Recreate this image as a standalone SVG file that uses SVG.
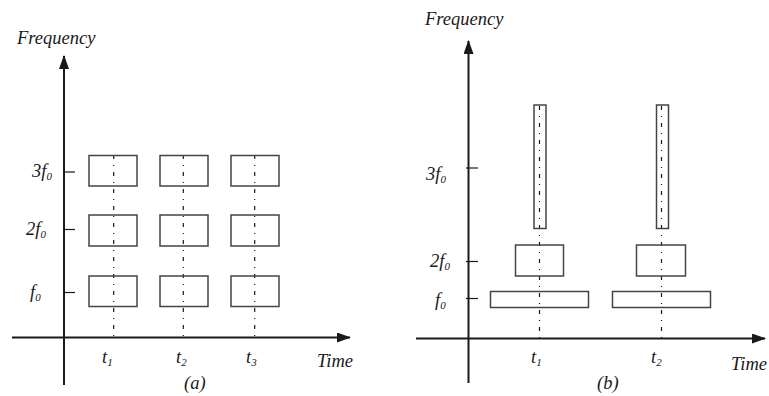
<svg xmlns="http://www.w3.org/2000/svg" width="769" height="396" viewBox="0 0 769 396">
<defs>
<marker id="arr" markerWidth="14" markerHeight="10" refX="13" refY="5" orient="auto" markerUnits="userSpaceOnUse">
<path d="M0,0 L14,5 L0,10 Z" fill="#1a1a1a"/>
</marker>
<style>
.ax{stroke:#1a1a1a;stroke-width:2;fill:none}
.tk{stroke:#1a1a1a;stroke-width:1.2;fill:none}
.bx{stroke:#444;stroke-width:1.5;fill:none}
.dd{stroke:#1a1a1a;stroke-width:1.2;stroke-dasharray:4 6 1 6;fill:none}
text{font-family:'Liberation Serif',serif;font-style:italic;font-size:18.5px;fill:#1a1a1a}
tspan{font-size:11px}
</style>
</defs>
<rect width="769" height="396" fill="#fff"/>
<g id="panel-a">
<g id="connectors-a">
<line class="ax" x1="64" y1="385" x2="64" y2="56" marker-end="url(#arr)"/>
<line class="ax" x1="12" y1="337.5" x2="350" y2="337.5" marker-end="url(#arr)"/>
<line class="tk" x1="63" y1="172" x2="75" y2="172"/>
<line class="tk" x1="63" y1="229.5" x2="75" y2="229.5"/>
<line class="tk" x1="63" y1="292.5" x2="75" y2="292.5"/>
<line class="dd" x1="113.7" y1="155" x2="113.7" y2="337"/>
<line class="dd" x1="183.3" y1="155" x2="183.3" y2="337"/>
<line class="dd" x1="254.7" y1="155" x2="254.7" y2="337"/>
</g>
<g id="a-boxes">
<rect class="bx" x="89" y="155.5" width="48" height="30.5"/>
<rect class="bx" x="160" y="155.5" width="48" height="30.5"/>
<rect class="bx" x="231" y="155.5" width="48" height="30.5"/>
<rect class="bx" x="89" y="215" width="48" height="31"/>
<rect class="bx" x="160" y="215" width="48" height="31"/>
<rect class="bx" x="231" y="215" width="48" height="31"/>
<rect class="bx" x="89" y="276" width="48" height="30.5"/>
<rect class="bx" x="160" y="276" width="48" height="30.5"/>
<rect class="bx" x="231" y="276" width="48" height="30.5"/>
</g>
<g id="a-labels">
<text x="17" y="44">Frequency</text>
<text x="32" y="177">3f<tspan dy="3">0</tspan></text>
<text x="26" y="235">2f<tspan dy="3">0</tspan></text>
<text x="30" y="298">f<tspan dy="3">0</tspan></text>
<text x="102" y="363">t<tspan dy="3">1</tspan></text>
<text x="176" y="363">t<tspan dy="3">2</tspan></text>
<text x="246" y="363">t<tspan dy="3">3</tspan></text>
<text x="317" y="367">Time</text>
<text x="184" y="389">(a)</text>
</g>
</g>
<g id="panel-b">
<g id="connectors-b">
<line class="ax" x1="468.5" y1="383" x2="468.5" y2="41" marker-end="url(#arr)"/>
<line class="ax" x1="416" y1="338.5" x2="765" y2="338.5" marker-end="url(#arr)"/>
<line class="tk" x1="466" y1="168" x2="478" y2="168"/>
<line class="tk" x1="466" y1="261.5" x2="478" y2="261.5"/>
<line class="tk" x1="466" y1="298.5" x2="478" y2="298.5"/>
<line class="dd" x1="539.5" y1="106" x2="539.5" y2="338"/>
<line class="dd" x1="661.5" y1="106" x2="661.5" y2="338"/>
</g>
<g id="b-boxes">
<rect class="bx" x="534" y="105" width="12" height="123.5"/>
<rect class="bx" x="656.5" y="105" width="12" height="123.5"/>
<rect class="bx" x="515.5" y="245" width="48" height="31"/>
<rect class="bx" x="636.5" y="245" width="49" height="31"/>
<rect class="bx" x="490.5" y="291.5" width="98" height="16"/>
<rect class="bx" x="612.5" y="291.5" width="98" height="16"/>
</g>
<g id="b-labels">
<text x="425" y="25">Frequency</text>
<text x="426" y="180">3f<tspan dy="3">0</tspan></text>
<text x="430" y="267">2f<tspan dy="3">0</tspan></text>
<text x="435" y="306">f<tspan dy="3">0</tspan></text>
<text x="531" y="363">t<tspan dy="3">1</tspan></text>
<text x="651" y="363">t<tspan dy="3">2</tspan></text>
<text x="731" y="370">Time</text>
<text x="597" y="389">(b)</text>
</g>
</g>
</svg>
